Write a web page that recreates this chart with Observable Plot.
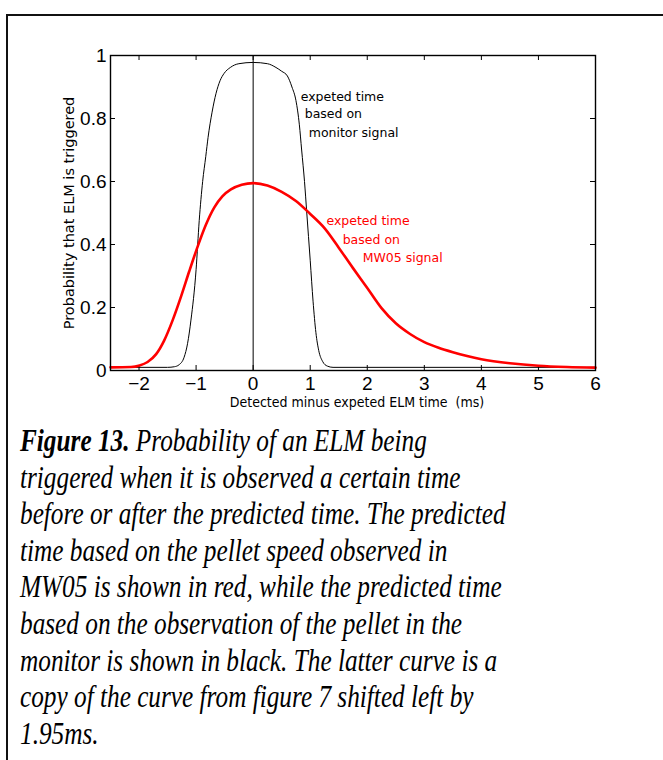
<!DOCTYPE html>
<html>
<head>
<meta charset="utf-8">
<script src="https://cdn.jsdelivr.net/npm/d3@7"></script>
<script src="https://cdn.jsdelivr.net/npm/@observablehq/plot@0.6"></script>
<style>
  body { margin: 0; background: #fff; }
  #wrap { position: relative; width: 663px; height: 760px; overflow: hidden; background: #fff; }
  #border { position: absolute; left: 6px; top: 14px; width: 700px; height: 800px;
            border-left: 2px solid #111; border-top: 2px solid #111; }
  #chart { position: absolute; left: 0; top: 0; }
  #caption { position: absolute; left: 20px; top: 423px; font-family: "Liberation Serif", "Times New Roman", serif;
             font-style: italic; font-size: 31px; line-height: 36.6px; color: #000;
             transform: scaleX(0.815); transform-origin: 0 0; white-space: nowrap; }
  #caption b { font-weight: bold; }
</style>
</head>
<body>
<div id="wrap">
  <div id="border"></div>
  <div id="chart"></div>
  <div id="caption"></div>
</div>
<script>
// ---- data ----
const blackX = [-2.5, -1.5, -1.38, -1.3, -1.21, -1.15, -1.09, -1.0, -0.945, -0.885, -0.83, -0.79, -0.72, -0.65, -0.58, -0.51, -0.4, -0.25, 0,
                0.25, 0.4, 0.5, 0.6, 0.68, 0.75, 0.81, 0.85, 0.9, 0.94, 1.0, 1.05, 1.1, 1.15, 1.22, 1.3, 1.4, 2.0, 6.0];
const blackY = [0.010, 0.010, 0.012, 0.018, 0.042, 0.085, 0.16, 0.32, 0.476, 0.60, 0.68, 0.74, 0.82, 0.88, 0.92, 0.943, 0.962, 0.974, 0.978,
                0.974, 0.962, 0.95, 0.935, 0.90, 0.857, 0.78, 0.70, 0.60, 0.50, 0.35, 0.22, 0.12, 0.063, 0.028, 0.014, 0.010, 0.010, 0.010];

const redX = [-2.5, -2.14, -1.99, -1.85, -1.70, -1.56, -1.41, -1.26, -1.12, -0.97, -0.83, -0.68, -0.54, -0.39, -0.2, 0,
              0.25, 0.5, 0.75, 1.0, 1.25, 1.5, 1.75, 2.0, 2.25, 2.5, 2.75, 3.0, 3.25, 3.5, 3.75, 4.0, 4.5, 5.0, 5.5, 6.0];
const redY = [0.010, 0.011, 0.016, 0.027, 0.052, 0.095, 0.160, 0.237, 0.315, 0.395, 0.462, 0.518, 0.553, 0.575, 0.590, 0.595,
              0.587, 0.567, 0.538, 0.497, 0.452, 0.390, 0.325, 0.262, 0.198, 0.150, 0.116, 0.090, 0.072, 0.058, 0.046, 0.036, 0.023, 0.015, 0.011, 0.009];

const xTicks = [-2, -1, 0, 1, 2, 3, 4, 5, 6];
const xTickLabels = ["\u22122", "\u22121", "0", "1", "2", "3", "4", "5", "6"];
const yTicks = [0, 0.2, 0.4, 0.6, 0.8, 1];
const yTickLabels = ["0", "0.2", "0.4", "0.6", "0.8", "1"];

const xLabel = "Detected minus expeted ELM time  (ms)";
const yLabel = "Probability that ELM is triggered";

const blackNote = ["expeted time", "based on", "monitor signal"];
const blackNoteX = [0.834, 0.904, 0.974];
const blackNoteY = [0.867, 0.814, 0.754];
const redNote = ["expeted time", "based on", "MW05 signal"];
const redNoteX = [1.284, 1.569, 1.919];
const redNoteY = [0.475, 0.414, 0.357];

const captionLines = [
  "<b>Figure 13.</b> Probability of an ELM being",
  "triggered when it is observed a certain time",
  "before or after the predicted time. The predicted",
  "time based on the pellet speed observed in",
  "MW05 is shown in red, while the predicted time",
  "based on the observation of the pellet in the",
  "monitor is shown in black. The latter curve is a",
  "copy of the curve from figure 7 shifted left by",
  "1.95ms."
];

// ---- chart ----
const W = 663, H = 412, mT = 55, mL = 110, mR = 68, mB = 42;
const pW = W - mL - mR, pH = H - mT - mB, tick = 5;
const black = blackX.map((x, i) => ({x, y: blackY[i]}));
const red = redX.map((x, i) => ({x, y: redY[i]}));
const bNotes = blackNote.map((t, i) => ({t, x: blackNoteX[i], y: blackNoteY[i]}));
const rNotes = redNote.map((t, i) => ({t, x: redNoteX[i], y: redNoteY[i]}));

const chart = Plot.plot({
  width: W, height: H, marginTop: mT, marginLeft: mL, marginRight: mR, marginBottom: mB,
  style: {fontFamily: "'Liberation Sans', Arial, sans-serif", fontSize: "19px", color: "#000", background: "transparent"},
  x: {domain: [-2.5, 6]},
  y: {domain: [0, 1]},
  marks: [
    Plot.ruleX([0], {stroke: "#000", strokeWidth: 1}),
    Plot.ruleX(xTicks, {x: d => d, insetTop: pH - tick, stroke: "#000", strokeWidth: 1}),
    Plot.ruleX(xTicks, {x: d => d, insetBottom: pH - tick, stroke: "#000", strokeWidth: 1}),
    Plot.ruleY(yTicks, {y: d => d, insetRight: pW - tick, stroke: "#000", strokeWidth: 1}),
    Plot.ruleY(yTicks, {y: d => d, insetLeft: pW - tick, stroke: "#000", strokeWidth: 1}),
    Plot.line(black, {x: "x", y: "y", curve: "monotone-x", stroke: "#000", strokeWidth: 1}),
    Plot.line(red, {x: "x", y: "y", curve: "monotone-x", stroke: "#ff0000", strokeWidth: 2.6}),
    Plot.frame({stroke: "#000", strokeWidth: 1.4}),
    Plot.axisX({ticks: xTicks, tickSize: 0, tickPadding: 6, label: null,
                tickFormat: d => xTickLabels[xTicks.indexOf(d)], fontSize: 19}),
    Plot.axisY({ticks: yTicks, tickSize: 0, tickPadding: 4, label: null,
                tickFormat: d => yTickLabels[yTicks.indexOf(d)], fontSize: 19}),
    Plot.text([xLabel], {frameAnchor: "bottom", dx: 4, dy: 32, lineAnchor: "middle",
                         fontFamily: "'DejaVu Sans Condensed', 'DejaVu Sans', sans-serif", fontSize: 14, fill: "#000"}),
    Plot.text([yLabel], {frameAnchor: "left", dx: -41, rotate: -90, textAnchor: "middle", lineAnchor: "middle",
                         fontFamily: "'DejaVu Sans', sans-serif", fontSize: 14.5, fill: "#000"}),
    Plot.text(bNotes, {x: "x", y: "y", text: "t", textAnchor: "start", lineAnchor: "middle",
                       fontFamily: "'DejaVu Sans', sans-serif", fontSize: 12.5, fill: "#000"}),
    Plot.text(rNotes, {x: "x", y: "y", text: "t", textAnchor: "start", lineAnchor: "middle",
                       fontFamily: "'DejaVu Sans', sans-serif", fontSize: 12.5, fill: "#ff0000"})
  ]
});
document.getElementById("chart").appendChild(chart);
document.getElementById("caption").innerHTML = captionLines.join("<br>");
</script>
</body>
</html>
